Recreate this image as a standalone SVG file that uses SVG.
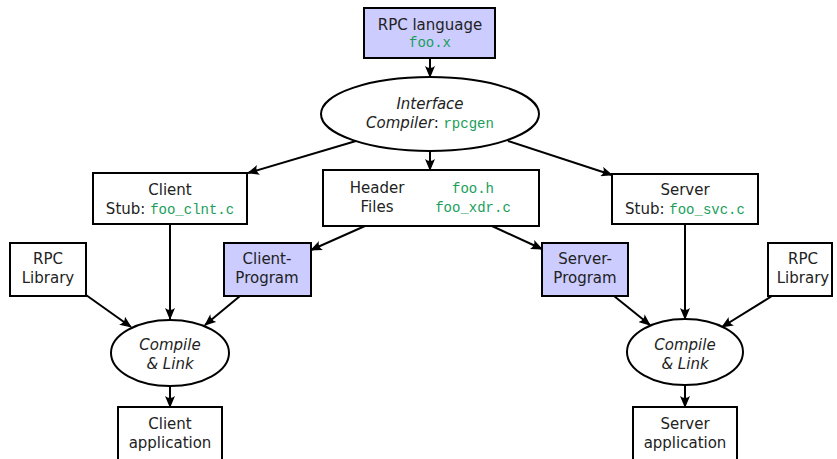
<svg xmlns="http://www.w3.org/2000/svg" width="837" height="459" viewBox="0 0 837 459">
  <style>
    .box { fill: #ffffff; stroke: #000; stroke-width: 2; }
    .hl { fill: #ccccff; stroke: #000; stroke-width: 2; }
    .ell { fill: #ffffff; stroke: #000; stroke-width: 2; }
    text { font-family: "DejaVu Sans", "Liberation Sans", sans-serif; font-size: 15px; fill: #222; text-anchor: middle; }
    .it { font-style: italic; }
    .code { font-family: "Liberation Mono", "DejaVu Sans Mono", monospace; font-size: 14px; fill: #1a9e5a; font-style: normal; }
    .edge { fill: none; stroke: #000; stroke-width: 2; marker-end: url(#arr); }
  </style>
  <defs>
    <marker id="arr" viewBox="0 0 12 10" refX="11" refY="5" markerWidth="6" markerHeight="5" markerUnits="strokeWidth" orient="auto">
      <path d="M0,0 Q4,5 0,10 L12,5 Z" fill="#000"/>
    </marker>
  </defs>

  <!-- connectors -->
  <g id="edges">
    <line class="edge" x1="430" y1="58" x2="430" y2="77"/>
    <line class="edge" x1="356" y1="141" x2="248" y2="173"/>
    <line class="edge" x1="430" y1="151" x2="430" y2="170"/>
    <line class="edge" x1="508" y1="141" x2="612" y2="175"/>
    <line class="edge" x1="170" y1="224" x2="170" y2="319"/>
    <line class="edge" x1="86" y1="295" x2="131" y2="327"/>
    <line class="edge" x1="240" y1="296" x2="205" y2="325"/>
    <line class="edge" x1="365" y1="226" x2="311" y2="250"/>
    <line class="edge" x1="492" y1="226" x2="542" y2="249"/>
    <line class="edge" x1="685" y1="224" x2="685" y2="319"/>
    <line class="edge" x1="614" y1="296" x2="650" y2="325"/>
    <line class="edge" x1="772" y1="296" x2="722" y2="327"/>
    <line class="edge" x1="170" y1="386" x2="170" y2="407"/>
    <line class="edge" x1="685" y1="386" x2="685" y2="407"/>
  </g>

  <g id="rpc-language">
    <rect class="hl" x="364" y="8" width="131" height="50"/>
    <text x="430" y="30">RPC language</text>
    <text x="430" y="47" class="code">foo.x</text>
  </g>

  <g id="rpcgen">
    <ellipse class="ell" cx="430" cy="114" rx="109" ry="37"/>
    <text x="430" y="109" class="it">Interface</text>
    <text x="430" y="128"><tspan class="it">Compiler</tspan>: <tspan class="code">rpcgen</tspan></text>
  </g>

  <g id="client-stub">
    <rect class="box" x="93" y="173" width="154" height="51"/>
    <text x="170" y="195">Client</text>
    <text x="170" y="214">Stub: <tspan class="code">foo_clnt.c</tspan></text>
  </g>

  <g id="header-files">
    <rect class="box" x="323" y="170" width="216" height="56"/>
    <text x="377" y="193">Header</text>
    <text x="377" y="212">Files</text>
    <text x="473" y="193" class="code">foo.h</text>
    <text x="473" y="212" class="code">foo_xdr.c</text>
  </g>

  <g id="server-stub">
    <rect class="box" x="612" y="174" width="146" height="50"/>
    <text x="685" y="195">Server</text>
    <text x="685" y="214">Stub: <tspan class="code">foo_svc.c</tspan></text>
  </g>

  <g id="rpc-library-left">
    <rect class="box" x="10" y="243" width="76" height="53"/>
    <text x="48" y="264">RPC</text>
    <text x="48" y="283">Library</text>
  </g>

  <g id="client-program">
    <rect class="hl" x="224" y="243" width="87" height="53"/>
    <text x="267" y="264">Client-</text>
    <text x="267" y="283">Program</text>
  </g>

  <g id="server-program">
    <rect class="hl" x="542" y="243" width="86" height="53"/>
    <text x="585" y="264">Server-</text>
    <text x="585" y="283">Program</text>
  </g>

  <g id="rpc-library-right">
    <rect class="box" x="768" y="243" width="64" height="53"/>
    <text x="803" y="264">RPC</text>
    <text x="803" y="283">Library</text>
  </g>

  <g id="compile-client">
    <ellipse class="ell" cx="170" cy="353" rx="59" ry="33"/>
    <text x="170" y="350" class="it">Compile</text>
    <text x="170" y="369" class="it">&amp; Link</text>
  </g>

  <g id="compile-server">
    <ellipse class="ell" cx="685" cy="352" rx="58" ry="33"/>
    <text x="685" y="350" class="it">Compile</text>
    <text x="685" y="369" class="it">&amp; Link</text>
  </g>

  <g id="client-app">
    <rect class="box" x="118" y="407" width="104" height="60"/>
    <text x="170" y="429">Client</text>
    <text x="170" y="448">application</text>
  </g>

  <g id="server-app">
    <rect class="box" x="633" y="407" width="104" height="60"/>
    <text x="685" y="429">Server</text>
    <text x="685" y="448">application</text>
  </g>
</svg>
